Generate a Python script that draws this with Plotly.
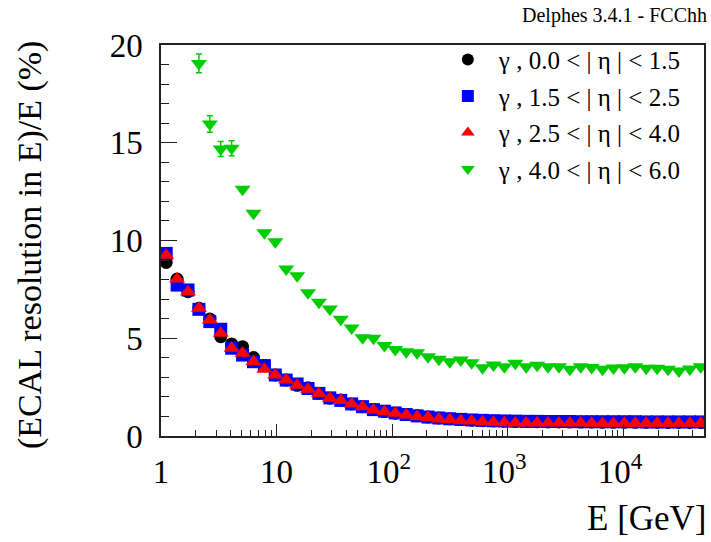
import plotly.graph_objects as go

# ---- data ----
energy = [1.109, 1.378, 1.713, 2.129, 2.646, 3.289, 4.087, 5.080, 6.313, 7.846,
          9.750, 12.12, 15.06, 18.72, 23.26, 28.91, 35.93, 44.65, 55.49, 68.96,
          85.70, 106.5, 132.4, 164.5, 204.5, 254.1, 315.8, 392.5, 487.8, 606.2,
          753.4, 936.3, 1164, 1446, 1797, 2234, 2776, 3450, 4287, 5328,
          6622, 8229, 10228, 12711, 15797, 19634, 24400, 30325, 37688, 46839]

res_eta0 = [8.88, 8.03, 7.38, 6.53, 5.98, 5.08, 4.71, 4.57, 4.01, 3.60,
            3.12, 2.86, 2.59, 2.47, 2.18, 1.93, 1.84, 1.64, 1.50, 1.35,
            1.25, 1.17, 1.10, 1.03, 0.97, 0.92, 0.88, 0.84, 0.81, 0.78,
            0.77, 0.75, 0.74, 0.74, 0.73, 0.72, 0.72, 0.71, 0.71, 0.71,
            0.70, 0.70, 0.70, 0.70, 0.70, 0.70, 0.69, 0.69, 0.69, 0.69]

res_eta1 = [9.34, 7.72, 7.47, 6.48, 5.85, 5.46, 4.49, 4.14, 3.80, 3.60,
            3.12, 2.86, 2.66, 2.43, 2.18, 1.95, 1.82, 1.64, 1.50, 1.35,
            1.27, 1.18, 1.10, 1.03, 0.97, 0.92, 0.88, 0.85, 0.82, 0.80,
            0.78, 0.77, 0.76, 0.75, 0.75, 0.74, 0.74, 0.74, 0.73, 0.73,
            0.73, 0.73, 0.73, 0.73, 0.72, 0.72, 0.72, 0.72, 0.72, 0.72]

res_eta2 = [9.25, 8.03, 7.38, 6.53, 5.93, 5.25, 4.49, 4.23, 3.80, 3.41,
            3.12, 2.86, 2.59, 2.39, 2.18, 1.93, 1.82, 1.64, 1.50, 1.33,
            1.24, 1.16, 1.07, 0.99, 0.95, 0.87, 0.85, 0.78, 0.77, 0.73,
            0.70, 0.68, 0.67, 0.67, 0.66, 0.66, 0.66, 0.66, 0.66, 0.65,
            0.65, 0.65, 0.65, 0.65, 0.65, 0.65, 0.65, 0.65, 0.65, 0.65]

res_eta3 = [None, None, None, 19.06, 15.96, 14.68, 14.72, 12.62, 11.39, 10.40,
            9.94, 8.54, 8.20, 7.33, 6.84, 6.50, 5.97, 5.52, 5.03, 5.00,
            4.63, 4.42, 4.31, 4.26, 4.06, 3.92, 3.80, 3.89, 3.75, 3.49,
            3.63, 3.54, 3.72, 3.54, 3.62, 3.54, 3.54, 3.41, 3.54, 3.51,
            3.41, 3.48, 3.49, 3.54, 3.46, 3.46, 3.41, 3.32, 3.43, 3.54]

err_eta3 = [0, 0, 0, 0.48, 0.42, 0.38, 0.38, 0.12, 0.1, 0.1,
            0.1, 0.1, 0.1, 0.1, 0.1, 0.1, 0.1, 0.1, 0.1, 0.1,
            0.1, 0.1, 0.1, 0.1, 0.1, 0.1, 0.1, 0.1, 0.1, 0.1,
            0.1, 0.1, 0.1, 0.1, 0.1, 0.1, 0.1, 0.1, 0.1, 0.1,
            0.1, 0.1, 0.1, 0.1, 0.1, 0.1, 0.1, 0.1, 0.1, 0.1]

labels = ["γ , 0.0 < | η | < 1.5", "γ , 1.5 < | η | < 2.5",
          "γ , 2.5 < | η | < 4.0", "γ , 4.0 < | η | < 6.0"]

x_tickvals = [1, 10, 100, 1000, 10000]
x_ticktext = ["1", "10", "10<sup>2</sup>\u2009", "10<sup>3</sup>\u2009", "10<sup>4</sup>\u2009"]
x_minorvals = [m * 10 ** d for d in range(5) for m in range(2, 10) if m * 10 ** d < 50000]
y_tickvals = [0, 5, 10, 15, 20]

FONT = "Liberation Serif"

fig = go.Figure()
fig.add_trace(go.Scatter(x=energy, y=res_eta0, mode="markers", name=labels[0], legendgroup="a",
                         marker=dict(symbol="circle", size=13, color="#000000")))
fig.add_trace(go.Scatter(x=energy, y=res_eta1, mode="markers", name=labels[1], legendgroup="b",
                         marker=dict(symbol="square", size=13, color="#0000ff")))
fig.add_trace(go.Scatter(x=energy, y=res_eta2, mode="markers", name=labels[2], legendgroup="c",
                         marker=dict(symbol="triangle-up", size=14, color="#ff0000")))
fig.add_trace(go.Scatter(x=energy, y=res_eta3, mode="markers", name=labels[3], legendgroup="d",
                         error_y=dict(type="data", array=err_eta3, visible=True,
                                      color="#00cc00", thickness=1.5, width=3),
                         marker=dict(symbol="triangle-down", size=14, color="#00cc00")))

fig.update_layout(
    width=711, height=542,
    margin=dict(l=161, r=5, t=45, b=106),
    paper_bgcolor="white", plot_bgcolor="white",
    font=dict(family=FONT, color="black"),
    showlegend=True,
    legend=dict(x=0.508, y=1.021, xanchor="left", yanchor="top",
                bgcolor="rgba(255,255,255,0)", borderwidth=0,
                font=dict(family=FONT, size=25, color="black"),
                tracegroupgap=1, itemsizing="constant", itemwidth=52),
    xaxis=dict(type="log", range=[0, 4.699], showgrid=False, zeroline=False,
               showline=True, linecolor="#222", linewidth=1.5, mirror=True,
               ticks="inside", ticklen=12, tickwidth=1.2, tickcolor="#222",
               tickmode="array", tickvals=x_tickvals, ticktext=x_ticktext,
               tickfont=dict(family=FONT, size=33, color="black"),
               ticklabelstandoff=6,
               minor=dict(tickmode="array", tickvals=x_minorvals, ticks="inside",
                          ticklen=6, tickwidth=1.2, tickcolor="#222", showgrid=False)),
    yaxis=dict(range=[0, 20], showgrid=False, zeroline=False,
               showline=True, linecolor="#222", linewidth=1.5, mirror=True,
               ticks="inside", ticklen=16, tickwidth=1.2, tickcolor="#222",
               tickmode="array", tickvals=y_tickvals,
               tickfont=dict(family=FONT, size=33, color="black"),
               ticklabelstandoff=10,
               minor=dict(dtick=1, ticks="inside", ticklen=8, tickwidth=1.2,
                          tickcolor="#222", showgrid=False)),
    annotations=[
        dict(text="E [GeV]", xref="paper", yref="paper", x=1.01, y=-0.21,
             xanchor="right", yanchor="middle", showarrow=False,
             font=dict(family=FONT, size=35, color="black")),
        dict(text="(ECAL resolution in E)/E (%)", xref="paper", yref="paper",
             x=-0.24, y=0.49, xanchor="center", yanchor="middle", textangle=-90,
             showarrow=False, font=dict(family=FONT, size=34, color="black")),
        dict(text="Delphes 3.4.1 - FCChh", xref="paper", yref="paper",
             x=1.01, y=1.075, xanchor="right", yanchor="middle", showarrow=False,
             font=dict(family=FONT, size=20, color="black")),
    ],
)

fig.write_html("out.html")
